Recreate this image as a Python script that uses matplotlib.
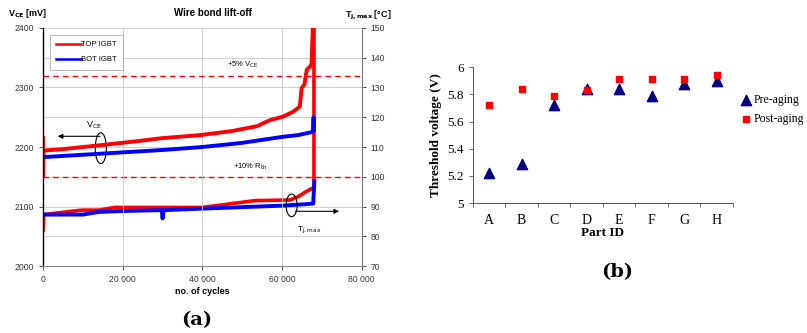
import numpy as np
import matplotlib
matplotlib.use("Agg")
import matplotlib.pyplot as plt
from matplotlib.patches import Ellipse

# panel (a): values
top_vce_x = [0, 0, 150, 4300, 14300, 22600, 30100, 39400, 47600, 53700, 56900, 60200,
             62700, 64450, 64900, 65600, 66200, 67000, 67400, 67800]
top_vce = [2215, 2150, 2194, 2196, 2203, 2209, 2215, 2220, 2227, 2235, 2245, 2251,
           2259, 2268, 2299, 2305, 2330, 2335, 2340, 2420]
bot_vce_x = [0, 10000, 20000, 30000, 40000, 50000, 55000, 60000, 64000, 67400, 67800, 67900, 67950]
bot_vce = [2183, 2187, 2191, 2195, 2200, 2207, 2212, 2217, 2220, 2225, 2228, 2250, 2228]

top_tj_x = [0, 200, 9700, 14000, 18000, 40000, 53200, 62000, 64000, 66000, 67500, 68000, 68000]
top_tj = [82, 87.3, 88.8, 88.8, 89.7, 89.7, 92.0, 92.2, 93.3, 95.0, 96.1, 96.1, 155]
bot_tj_x = [0, 10000, 14000, 20000, 29800, 30000, 30300, 40000, 50000, 60000, 65000, 67800, 68100]
bot_tj = [87.3, 87.3, 88.2, 88.5, 88.8, 86.0, 88.8, 89.3, 89.8, 90.3, 90.7, 91.0, 98.5]

vce_limit = 2320
rth_limit = 100

# panel (b)
parts = ["A", "B", "C", "D", "E", "F", "G", "H"]
pre_aging = [5.22, 5.29, 5.72, 5.84, 5.84, 5.79, 5.88, 5.90]
post_aging = [5.72, 5.84, 5.79, 5.83, 5.91, 5.91, 5.91, 5.94]

sans = "Liberation Sans"
serif = "Liberation Serif"

fig = plt.figure(figsize=(8.07, 3.33), dpi=100)

# ---- panel (a)
ax = fig.add_axes([0.0533, 0.201, 0.395, 0.715])
ax2 = ax.twinx()
ax.set_zorder(ax2.get_zorder() + 1)
ax.patch.set_visible(False)

ax.set_xlim(0, 80000)
ax.set_ylim(2000, 2400)
ax2.set_ylim(70, 150)
ax.set_yticks(np.arange(2000, 2401, 100))
ax2.set_yticks(np.arange(70, 151, 10))
ax.set_xticks(np.arange(0, 80001, 20000))
ax.set_xticklabels(["0", "20 000", "40 000", "60 000", "80 000"])
for a in (ax, ax2):
    a.tick_params(labelsize=6.2, length=3, width=0.6, colors="#333333")
    for lbl in a.get_xticklabels() + a.get_yticklabels():
        lbl.set_fontfamily(sans)
ax2.grid(axis="y", color="#c8c8c8", lw=0.6)
ax.grid(axis="x", color="#c8c8c8", lw=0.6)
ax.spines["top"].set_visible(False)
ax2.spines["top"].set_visible(False)
ax.spines["left"].set_color("black")
ax.spines["left"].set_linewidth(1.0)
ax.spines["bottom"].set_color("#888888")
ax2.spines["right"].set_color("#777777")
ax2.spines["left"].set_visible(False)
ax2.spines["bottom"].set_visible(False)
ax.spines["right"].set_visible(False)

red = "#ff0000"
blue = "#0000ff"
ax2.plot(top_tj_x, top_tj, color=red, lw=2.6, solid_joinstyle="miter")
ax2.plot(bot_tj_x, bot_tj, color=blue, lw=2.8)
ax.plot(top_vce_x, top_vce, color=red, lw=2.8, label="TOP IGBT")
ax.plot(bot_vce_x, bot_vce, color=blue, lw=2.8, label="BOT IGBT")
ax.axhline(vce_limit, color=red, ls=(0, (4, 3)), lw=1.0)
ax2.axhline(rth_limit, color=red, ls=(0, (4, 3)), lw=1.0)

leg = ax.legend(loc="upper left", bbox_to_anchor=(0.015, 0.98), frameon=True,
                fancybox=False, edgecolor="#999999", prop={"family": sans, "size": 5.5},
                handlelength=3.2, labelspacing=1.0, borderpad=0.8, handletextpad=0.1,
                borderaxespad=0.3)
leg.get_frame().set_linewidth(0.6)
for h in leg.get_lines():
    h.set_linewidth(1.8)

ax.text(50200, 2329, "+5% V$_{\\mathrm{CE}}$", fontsize=5.5, family=sans, ha="center", va="bottom")
ax.text(51900, 2158, "+10% R$_{\\mathrm{th}}$", fontsize=5.5, family=sans, ha="center", va="bottom")
ax.text(12800, 2227, "V$_{\\mathrm{CE}}$", fontsize=6.5, family=sans, ha="center", va="bottom")
ax.text(66800, 2060, "T$_{\\mathrm{j,max}}$", fontsize=6.0, family=sans, ha="center", va="center")
ax.add_patch(Ellipse((14500, 2198), 2800, 52, fill=False, lw=0.8, ec="black"))
ax.add_patch(Ellipse((62400, 2102), 2800, 38, fill=False, lw=0.8, ec="black"))
ax.annotate("", xy=(3000, 2218), xytext=(15000, 2218),
            arrowprops=dict(arrowstyle="-|>", lw=0.8, color="black", mutation_scale=7))
ax.annotate("", xy=(75000, 2092), xytext=(62600, 2092),
            arrowprops=dict(arrowstyle="-|>", lw=0.8, color="black", mutation_scale=7))

fig.text(213 / 807, 1 - 13 / 333, "Wire bond lift-off", fontsize=7, family=sans,
         weight="bold", ha="center", va="center")
fig.text(8 / 807, 1 - 14 / 333, "V$_{\\mathbf{CE}}$ [mV]", fontsize=6.5, family=sans,
         weight="bold", ha="left", va="center")
fig.text(392 / 807, 1 - 15 / 333, "T$_{\\mathbf{j,max}}$ [°C]", fontsize=6.5, family=sans,
         weight="bold", ha="right", va="center")
ax.set_xlabel("no. of cycles", fontsize=6.5, family=sans, weight="bold", labelpad=2)

fig.text(197 / 807, 1 - 320 / 333, "(a)", fontsize=14, family="DejaVu Serif",
         weight="bold", ha="center", va="center")

# ---- panel (b)
bx = fig.add_axes([0.586, 0.390, 0.322, 0.408])
pos = np.arange(len(parts)) + 0.5
bx.scatter(pos, pre_aging, marker="^", s=55, color="#000080", label="Pre-aging", zorder=3)
bx.scatter(pos, post_aging, marker="s", s=22, color="#ff0000", label="Post-aging", zorder=3)
bx.set_xlim(0, 8)
bx.set_ylim(5, 6)
bx.set_yticks(np.arange(5, 6.01, 0.2))
bx.set_yticklabels(["5", "5.2", "5.4", "5.6", "5.8", "6"])
bx.set_xticks(np.arange(0, 9))
bx.set_xticklabels([])
bx.set_xticks(pos, minor=True)
bx.set_xticklabels(parts, minor=True)
bx.tick_params(axis="x", which="minor", length=0, pad=8)
bx.tick_params(which="major", length=3, width=0.6, color="#555555")
bx.tick_params(labelsize=9.5)
for lbl in bx.get_xticklabels(minor=True) + bx.get_yticklabels():
    lbl.set_fontfamily(serif)
for s in ("top", "right"):
    bx.spines[s].set_visible(False)
for s in ("left", "bottom"):
    bx.spines[s].set_color("#555555")
    bx.spines[s].set_linewidth(0.7)
bx.set_ylabel("Threshold voltage (V)", fontsize=9.5, family=serif, weight="bold", labelpad=4)
bx.set_xlabel("Part ID", fontsize=9.5, family=serif, weight="bold", labelpad=0)
bx.legend(loc="center left", bbox_to_anchor=(1.02, 0.69), frameon=False,
          prop={"family": serif, "size": 8.5}, handletextpad=0.15, borderaxespad=0.0,
          borderpad=0.2, handlelength=1.0, labelspacing=0.6, scatterpoints=1)

fig.text(617 / 807, 1 - 272 / 333, "(b)", fontsize=14, family="DejaVu Serif",
         weight="bold", ha="center", va="center")

fig.savefig("out.png", dpi=100)
